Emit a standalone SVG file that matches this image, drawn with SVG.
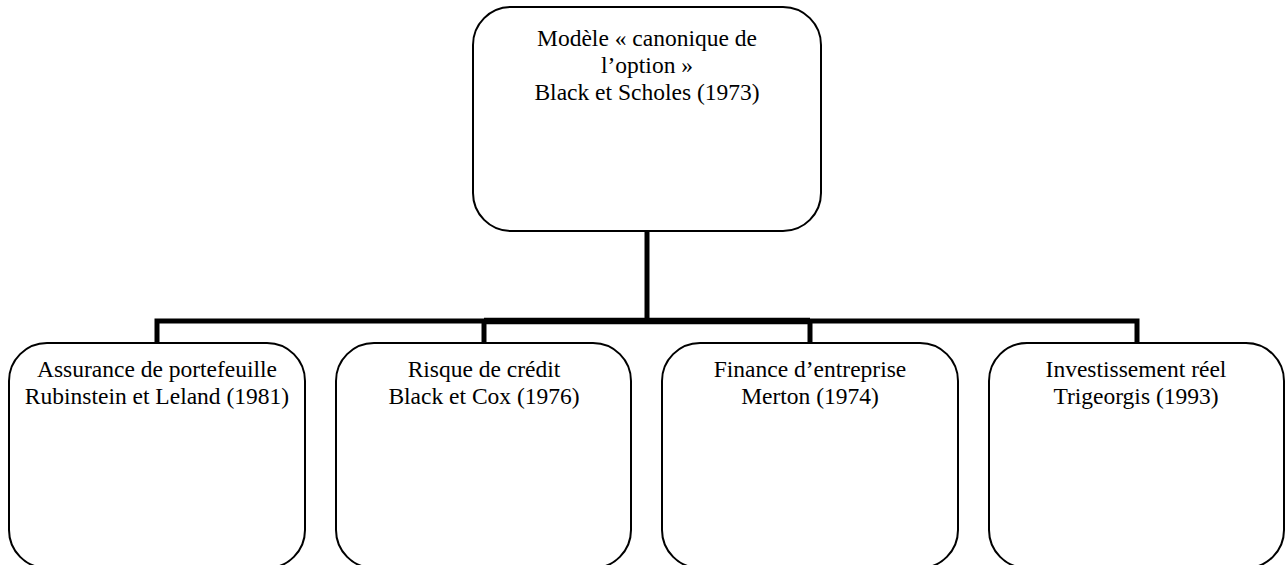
<svg xmlns="http://www.w3.org/2000/svg" width="1287" height="565" viewBox="0 0 1287 565">
  <style>
    .box { fill: #ffffff; stroke: #000000; stroke-width: 2; }
    .lbl { font-family: "Liberation Serif", "Times New Roman", serif; font-size: 23.5px; fill: #000000; text-anchor: middle; }
    .wire { fill: none; stroke: #000000; stroke-width: 5; stroke-linejoin: miter; stroke-linecap: butt; }
    .wire-mid { fill: none; stroke: #000000; stroke-width: 6.5; }
  </style>

  <!-- tree connectors -->
  <g id="connectors">
    <line class="wire" x1="647" y1="231" x2="647" y2="322"/>
    <path class="wire" d="M157,343 V321 H1137 V343"/>
    <line class="wire-mid" x1="484" y1="321" x2="810" y2="321"/>
    <line class="wire" x1="484" y1="321" x2="484" y2="343"/>
    <line class="wire" x1="810" y1="321" x2="810" y2="343"/>
  </g>

  <!-- root -->
  <g id="node-root">
    <rect class="box" x="473" y="7" width="348" height="224" rx="38" ry="38"/>
    <text class="lbl" x="647" y="46">Modèle « canonique de</text>
    <text class="lbl" x="647" y="73">l’option »</text>
    <text class="lbl" x="647" y="100">Black et Scholes (1973)</text>
  </g>

  <!-- children -->
  <g id="node-assurance">
    <rect class="box" x="9" y="343" width="296" height="225" rx="38" ry="38"/>
    <text class="lbl" x="157" y="377">Assurance de portefeuille</text>
    <text class="lbl" x="157" y="404">Rubinstein et Leland (1981)</text>
  </g>

  <g id="node-credit">
    <rect class="box" x="336" y="343" width="295" height="225" rx="38" ry="38"/>
    <text class="lbl" x="484" y="377">Risque de crédit</text>
    <text class="lbl" x="484" y="404">Black et Cox (1976)</text>
  </g>

  <g id="node-finance">
    <rect class="box" x="662" y="343" width="296" height="225" rx="38" ry="38"/>
    <text class="lbl" x="810" y="377">Finance d’entreprise</text>
    <text class="lbl" x="810" y="404">Merton (1974)</text>
  </g>

  <g id="node-invest">
    <rect class="box" x="989" y="343" width="295" height="225" rx="38" ry="38"/>
    <text class="lbl" x="1136" y="377">Investissement réel</text>
    <text class="lbl" x="1136" y="404">Trigeorgis (1993)</text>
  </g>
</svg>
